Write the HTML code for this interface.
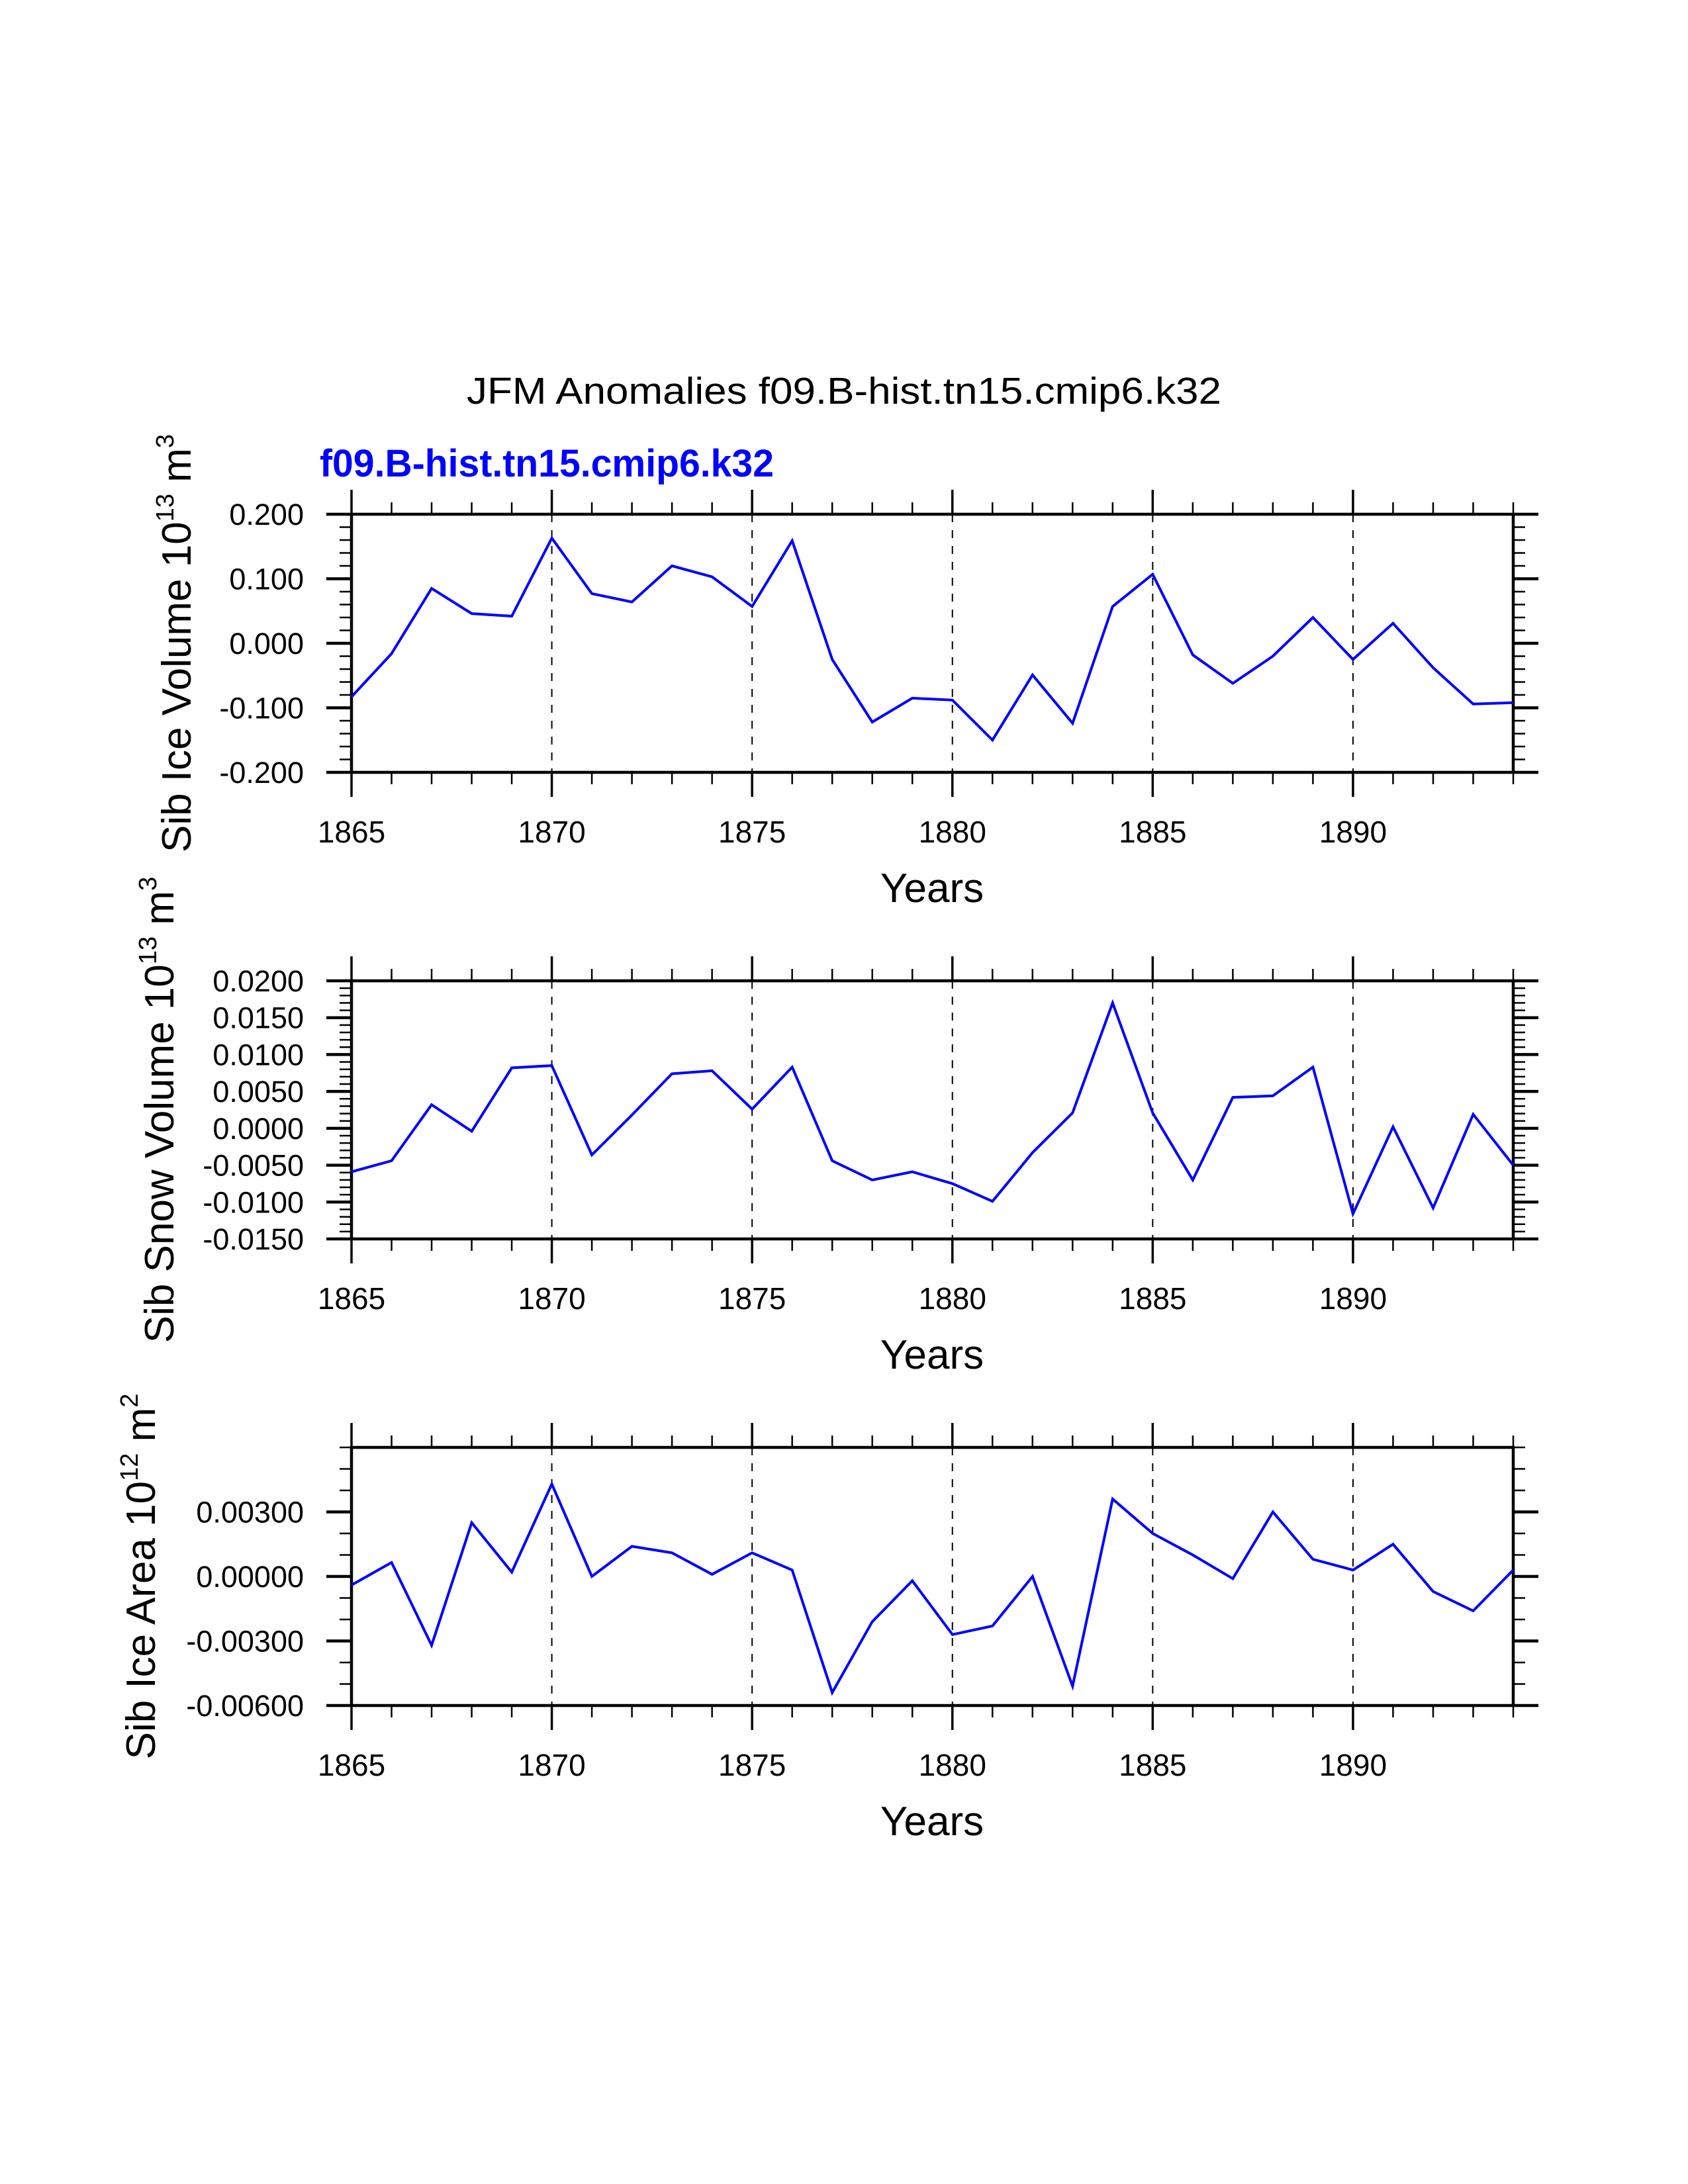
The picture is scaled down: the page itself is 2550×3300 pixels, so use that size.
<!DOCTYPE html>
<html><head><meta charset="utf-8"><style>
html,body{margin:0;padding:0;background:#fff}
svg{display:block}
text{font-family:"Liberation Sans",sans-serif}
</style></head><body>
<svg id="chart" xmlns="http://www.w3.org/2000/svg" width="2550" height="3300" viewBox="0 0 2550 3300">
<rect width="2550" height="3300" fill="#fff"/>
<text x="1275" y="610" text-anchor="middle" font-size="57" textLength="1140" lengthAdjust="spacingAndGlyphs">JFM Anomalies f09.B-hist.tn15.cmip6.k32</text>
<text x="483" y="720" font-size="58" font-weight="bold" fill="#0000ff" textLength="686" lengthAdjust="spacingAndGlyphs">f09.B-hist.tn15.cmip6.k32</text>
</svg>
<script>
const years = [1865,1866,1867,1868,1869,1870,1871,1872,1873,1874,1875,1876,1877,1878,1879,1880,1881,1882,1883,1884,1885,1886,1887,1888,1889,1890,1891,1892,1893,1894];
const iceVolume = [-0.083,-0.016,0.085,0.046,0.042,0.163,0.077,0.064,0.120,0.103,0.057,0.159,-0.025,-0.122,-0.085,-0.088,-0.150,-0.049,-0.124,0.057,0.107,-0.018,-0.062,-0.020,0.040,-0.025,0.031,-0.038,-0.094,-0.092];
const snowVolume = [-0.0059,-0.0044,0.0032,-0.0004,0.0082,0.0085,-0.0036,0.0018,0.0074,0.0078,0.0026,0.0083,-0.0044,-0.0070,-0.0059,-0.0075,-0.0099,-0.0033,0.0021,0.0170,0.0021,-0.0070,0.0042,0.0044,0.0083,-0.0116,0.0002,-0.0108,0.0019,-0.0050];
const iceArea = [-0.0004,0.00065,-0.0032,0.0025,0.0002,0.0043,0.0000,0.0014,0.0011,0.0001,0.0011,0.0003,-0.0054,-0.0021,-0.0002,-0.0027,-0.0023,0.0000,-0.0051,0.0036,0.0020,0.0010,-0.0001,0.0030,0.0008,0.0003,0.0015,-0.0007,-0.0016,0.0003];
const xMajorTicks = [1865,1870,1875,1880,1885,1890];
const iceVolumeTicks = [-0.2,-0.1,0,0.1,0.2];
const iceVolumeTickLabels = ["-0.200","-0.100","0.000","0.100","0.200"];
const snowVolumeTicks = [-0.015,-0.01,-0.005,0,0.005,0.01,0.015,0.02];
const snowVolumeTickLabels = ["-0.0150","-0.0100","-0.0050","0.0000","0.0050","0.0100","0.0150","0.0200"];
const iceAreaTicks = [-0.006,-0.003,0,0.003];
const iceAreaTickLabels = ["-0.00600","-0.00300","0.00000","0.00300"];

const NS="http://www.w3.org/2000/svg";
const svg=document.getElementById('chart');
function mk(tag,parent){const e=document.createElementNS(NS,tag);parent.appendChild(e);return e;}
function line(p,x1,y1,x2,y2,w,extra){const l=mk('line',p);l.setAttribute('x1',x1);l.setAttribute('y1',y1);l.setAttribute('x2',x2);l.setAttribute('y2',y2);l.setAttribute('stroke','#000');l.setAttribute('stroke-width',w);if(extra)l.setAttribute('stroke-dasharray',extra);return l;}

const L=531,R=2286,H=390;
function xs(v){return L+(v-1865)/(1894-1865)*(R-L);}

function panel(name,top,yMin,yMax,minorStep,ticks,labels,vals,titleX,titleMain,sup1,unit,sup2){
  const g=mk('g',svg);
  
  
  const B=top+H;
  const ys=v=>B-(v-yMin)/(yMax-yMin)*H;
  // grid
  xMajorTicks.forEach(t=>{if(t>1865){const gl=line(g,xs(t),top,xs(t),B,2,'12,12');
    
    }});
  // x ticks
  for(let yr=1865;yr<=1894;yr++){
    const maj=xMajorTicks.includes(yr);const len=maj?37:18;const w=maj?3.5:2.5;
    const t1=line(g,xs(yr),top,xs(yr),top-len,w);
    
    
    const t2=line(g,xs(yr),B,xs(yr),B+len,w);
    
    
  }
  xMajorTicks.forEach(t=>{const tx=mk('text',g);tx.setAttribute('x',xs(t));tx.setAttribute('y',B+106);tx.setAttribute('font-size','46');tx.setAttribute('text-anchor','middle');tx.textContent=t;
    
    });
  // y minor ticks
  const n=Math.round((yMax-yMin)/minorStep);
  for(let i=0;i<=n;i++){const v=yMin+i*minorStep;
    const a=line(g,L,ys(v),L-18,ys(v),2.5);
    const b=line(g,R,ys(v),R+18,ys(v),2.5);}
  ticks.forEach((v,i)=>{
    const a=line(g,L,ys(v),L-38,ys(v),4.5);
    const b=line(g,R,ys(v),R+38,ys(v),4.5);
    const tx=mk('text',g);tx.setAttribute('x',459);tx.setAttribute('y',ys(v)+16);tx.setAttribute('font-size','45');tx.setAttribute('text-anchor','end');tx.textContent=labels[i];
    
    
  });
  // frame
  const fr=mk('rect',g);fr.setAttribute('x',L);fr.setAttribute('y',top);fr.setAttribute('width',R-L);fr.setAttribute('height',H);fr.setAttribute('fill','none');fr.setAttribute('stroke','#000');fr.setAttribute('stroke-width','4.5');
  
  
  // series
  const pl=mk('polyline',g);
  pl.setAttribute('points',vals.map((v,i)=>xs(years[i]).toFixed(1)+','+ys(v).toFixed(1)).join(' '));
  pl.setAttribute('fill','none');pl.setAttribute('stroke','#0000ff');pl.setAttribute('stroke-width','4');pl.setAttribute('stroke-linejoin','miter');
  
  
  // x title
  const xt=mk('text',g);xt.setAttribute('x',1408);xt.setAttribute('y',B+196);xt.setAttribute('font-size','62');xt.setAttribute('text-anchor','middle');xt.textContent='Years';
  
  
  // y title
  const yt=mk('text',g);const cy=top+H/2;
  yt.setAttribute('transform','translate('+titleX+','+cy+') rotate(-90)');
  yt.setAttribute('text-anchor','middle');yt.setAttribute('font-size','62');
  
  
  const s1=mk('tspan',yt);s1.textContent=titleMain;
  const s2=mk('tspan',yt);s2.setAttribute('dy','-26');s2.setAttribute('font-size','38');s2.textContent=sup1;
  const s3=mk('tspan',yt);s3.setAttribute('dy','26');s3.textContent=' '+unit;
  const s4=mk('tspan',yt);s4.setAttribute('dy','-26');s4.setAttribute('font-size','38');s4.textContent=sup2;
}
panel('ice-volume',777,-0.2,0.2,0.02,iceVolumeTicks,iceVolumeTickLabels,iceVolume,288,'Sib Ice Volume 10','13','m','3');
panel('snow-volume',1482,-0.015,0.02,0.001,snowVolumeTicks,snowVolumeTickLabels,snowVolume,262,'Sib Snow Volume 10','13','m','3');
panel('ice-area',2187,-0.006,0.006,0.001,iceAreaTicks,iceAreaTickLabels,iceArea,234,'Sib Ice Area 10','12','m','2');
</script>
</body></html>
